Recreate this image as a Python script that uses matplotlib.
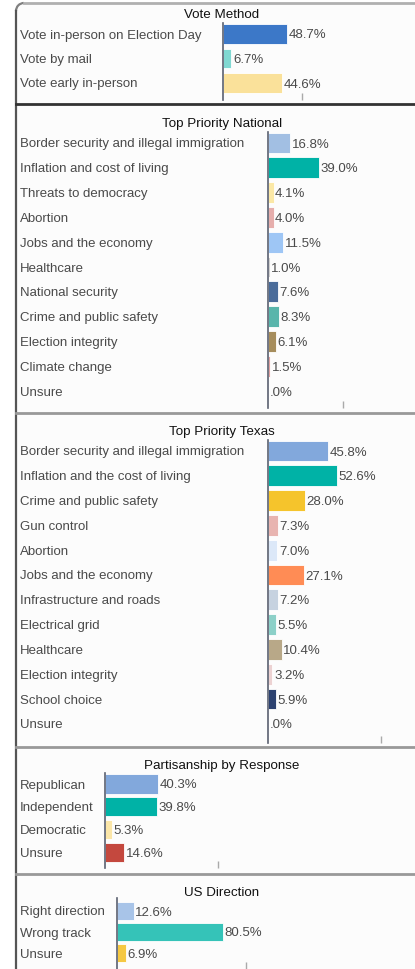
import numpy as np
import matplotlib
matplotlib.use("Agg")
import matplotlib.pyplot as plt
from matplotlib.patches import Arc
import matplotlib.transforms as mtransforms

plt.rcParams['font.family'] = ['Liberation Sans', 'DejaVu Sans']

# ---- data ----
vote_labels = ["Vote in-person on Election Day", "Vote by mail", "Vote early in-person"]
vote_values = [48.7, 6.7, 44.6]
vote_colors = ["#3c78c8", "#80d8d2", "#fae19a"]

nat_labels = ["Border security and illegal immigration", "Inflation and cost of living",
              "Threats to democracy", "Abortion", "Jobs and the economy", "Healthcare",
              "National security", "Crime and public safety", "Election integrity",
              "Climate change", "Unsure"]
nat_values = [16.8, 39.0, 4.1, 4.0, 11.5, 1.0, 7.6, 8.3, 6.1, 1.5, 0.0]
nat_colors = ["#a2bfe3", "#00b2a6", "#fbe8a6", "#e6aeac", "#9ec6f5", "#d0d0d0",
              "#4a6c9a", "#58b5ab", "#a68d5c", "#e0a0a0", "#cccccc"]

tx_labels = ["Border security and illegal immigration", "Inflation and the cost of living",
             "Crime and public safety", "Gun control", "Abortion", "Jobs and the economy",
             "Infrastructure and roads", "Electrical grid", "Healthcare", "Election integrity",
             "School choice", "Unsure"]
tx_values = [45.8, 52.6, 28.0, 7.3, 7.0, 27.1, 7.2, 5.5, 10.4, 3.2, 5.9, 0.0]
tx_colors = ["#82a8dc", "#00b2a6", "#f5c42c", "#e8b4b0", "#dce8f8", "#ff8c55",
             "#c6d2e0", "#8cd0c8", "#b8a888", "#ecd2d2", "#2c4270", "#cccccc"]

party_labels = ["Republican", "Independent", "Democratic", "Unsure"]
party_values = [40.3, 39.8, 5.3, 14.6]
party_colors = ["#82a8dc", "#00b2a6", "#fbe6a8", "#c4483e"]

dir_labels = ["Right direction", "Wrong track", "Unsure"]
dir_values = [12.6, 80.5, 6.9]
dir_colors = ["#a8c4e8", "#35c3b8", "#f5c842"]

W, H = 415, 969
fig = plt.figure(figsize=(W / 100, H / 100), dpi=100, facecolor="white")

# background frame in pixel coordinates
bg = fig.add_axes([0, 0, 1, 1], zorder=0)
bg.set_xlim(0, W)
bg.set_ylim(H, 0)
bg.axis("off")
bg.fill_between([16, W], 3, H, color="#fcfcfc", zorder=0)
bg.plot([24, W], [3, 3], color="#b0b0b0", lw=2)
bg.add_patch(Arc((24, 11), 16, 16, theta1=180, theta2=270, color="#808080", lw=1.6))
bg.plot([16, 16], [11, H], color="#555555", lw=1.6)
bg.plot([16, W], [104, 104], color="#333333", lw=2)
for yy in [413, 747, 874]:
    bg.plot([16, W], [yy, yy], color="#999999", lw=2)

text_col = "#4a4a4a"
fs = 9.5


def panel(title, title_y, labels, values, colors, axis_x, row0, spacing,
          top_px, bot_px, tick, bar_h, scale=1.31):
    n = len(labels)
    ytop = (top_px - row0) / spacing
    ybot = (bot_px - row0) / spacing
    ax = fig.add_axes([axis_x / W, 1 - bot_px / H, (W - axis_x) / W,
                       (bot_px - top_px) / H], zorder=2)
    ax.set_facecolor("none")
    ax.barh(np.arange(n), values, height=bar_h, color=colors,
            edgecolor="#ffffff", linewidth=0.6)
    ax.set_xlim(0, (W - axis_x) / scale)
    ax.set_ylim(ybot, ytop)
    for s in ["top", "right", "bottom"]:
        ax.spines[s].set_visible(False)
    ax.spines["left"].set_color("#5a6070")
    ax.spines["left"].set_linewidth(1.2)
    ax.set_yticks([])
    ax.set_xticks([tick])
    ax.set_xticklabels([])
    ax.tick_params(axis="x", direction="in", length=5, width=1, color="#aaaaaa", pad=0)
    for i, v in enumerate(values):
        s = f"{v:.1f}%"
        if v < 1:
            s = s.lstrip("0")
        ax.text(v + 1.5 / scale, i, s, va="center_baseline", ha="left",
                fontsize=fs, color=text_col)
    trans = mtransforms.blended_transform_factory(fig.transFigure, ax.transData)
    for i, lab in enumerate(labels):
        fig.text(20 / W, i, lab, transform=trans, va="center_baseline", ha="left",
                 fontsize=fs, color=text_col, zorder=3)
    fig.text(222 / W, 1 - title_y / H, title, ha="center", va="center_baseline",
             fontsize=9.6, color="#111111")
    return ax


panel("Vote Method", 13, vote_labels, vote_values, vote_colors,
      222.5, 34, 24.5, 23, 100, 60, 0.78, scale=1.33)
panel("Top Priority National", 122, nat_labels, nat_values, nat_colors,
      268.3, 143, 24.8, 132, 408, 57, 0.84)
panel("Top Priority Texas", 431, tx_labels, tx_values, tx_colors,
      268.3, 451, 24.8, 440, 743, 86, 0.84)
panel("Partisanship by Response", 764, party_labels, party_values, party_colors,
      105, 784, 22.7, 773, 868, 86, 0.84)
panel("US Direction", 891, dir_labels, dir_values, dir_colors,
      117.3, 911, 21, 898, 969, 98, 0.88)

fig.savefig("out.png", dpi=100, facecolor="white")
